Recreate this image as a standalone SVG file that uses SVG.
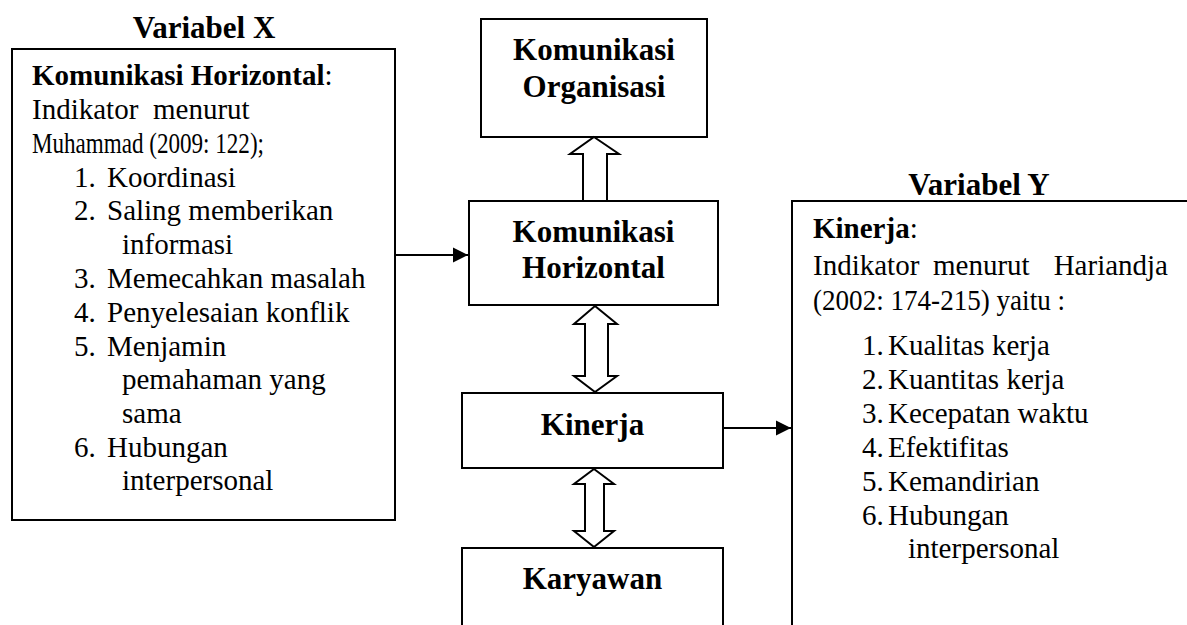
<svg xmlns="http://www.w3.org/2000/svg" width="1187" height="625" viewBox="0 0 1187 625">
<defs>
<style>
.box{fill:#fff;stroke:#000;stroke-width:2}
.blk{fill:#fff;stroke:#000;stroke-width:2;stroke-linejoin:miter}
.t{font-family:"Liberation Serif","Times New Roman",serif;font-size:29px;fill:#000}
.b{font-weight:bold}
.h{font-family:"Liberation Serif","Times New Roman",serif;font-size:31px;font-weight:bold;fill:#000;text-anchor:middle}
.ln{stroke:#000;stroke-width:2;fill:none}
</style>
<marker id="ah" markerUnits="userSpaceOnUse" markerWidth="16" markerHeight="16" refX="15" refY="8" orient="auto">
<path d="M0,0.5 L15,8 L0,15.5 Z" fill="#000"/>
</marker>
</defs>
<rect width="1187" height="625" fill="#fff"/>

<g id="varX">
<text class="h" x="204" y="38">Variabel X</text>
<rect class="box" x="12" y="49" width="383" height="471"/>
<text class="t" x="32" y="85"><tspan class="b">Komunikasi Horizontal</tspan>:</text>
<text class="t" x="32" y="119">Indikator</text>
<text class="t" x="153" y="119">menurut</text>
<text class="t" x="32" y="153" textLength="232" lengthAdjust="spacingAndGlyphs">Muhammad (2009: 122);</text>
<text class="t" x="74" y="187">1.</text><text class="t" x="107" y="187">Koordinasi</text>
<text class="t" x="74" y="220">2.</text><text class="t" x="107" y="220">Saling memberikan</text>
<text class="t" x="122" y="254">informasi</text>
<text class="t" x="74" y="288">3.</text><text class="t" x="107" y="288">Memecahkan masalah</text>
<text class="t" x="74" y="322">4.</text><text class="t" x="107" y="322">Penyelesaian konflik</text>
<text class="t" x="74" y="356">5.</text><text class="t" x="107" y="356">Menjamin</text>
<text class="t" x="122" y="389">pemahaman yang</text>
<text class="t" x="122" y="423">sama</text>
<text class="t" x="74" y="457">6.</text><text class="t" x="107" y="457">Hubungan</text>
<text class="t" x="122" y="490">interpersonal</text>
</g>

<g id="komOrg">
<rect class="box" x="481" y="19" width="226" height="118"/>
<text class="h" x="594" y="60">Komunikasi</text>
<text class="h" x="594" y="97">Organisasi</text>
</g>

<g id="komHor">
<rect class="box" x="469" y="201" width="249" height="104"/>
<text class="h" x="593.5" y="242">Komunikasi</text>
<text class="h" x="593.5" y="278">Horizontal</text>
</g>

<g id="kinerja">
<rect class="box" x="462" y="393" width="261" height="75"/>
<text class="h" x="592.5" y="435">Kinerja</text>
</g>

<g id="karyawan">
<rect class="box" x="462" y="548" width="261" height="100"/>
<text class="h" x="592.5" y="589">Karyawan</text>
</g>

<g id="varY">
<text class="h" x="979" y="195">Variabel Y</text>
<rect class="box" x="792" y="201" width="420" height="450"/>
<text class="t" x="813" y="238"><tspan class="b">Kinerja</tspan>:</text>
<text class="t" x="813" y="275">Indikator</text>
<text class="t" x="933" y="275">menurut</text>
<text class="t" x="1168" y="275" text-anchor="end">Hariandja</text>
<text class="t" x="813" y="310" textLength="252" lengthAdjust="spacingAndGlyphs">(2002: 174-215) yaitu :</text>
<text class="t" x="862" y="355">1.</text><text class="t" x="888" y="355">Kualitas kerja</text>
<text class="t" x="862" y="389">2.</text><text class="t" x="888" y="389">Kuantitas kerja</text>
<text class="t" x="862" y="423">3.</text><text class="t" x="888" y="423">Kecepatan waktu</text>
<text class="t" x="862" y="457">4.</text><text class="t" x="888" y="457">Efektifitas</text>
<text class="t" x="862" y="491">5.</text><text class="t" x="888" y="491">Kemandirian</text>
<text class="t" x="862" y="525">6.</text><text class="t" x="888" y="525">Hubungan</text>
<text class="t" x="908" y="558">interpersonal</text>
</g>

<g id="connectors">
<line class="ln" x1="395" y1="255" x2="468" y2="255" marker-end="url(#ah)"/>
<line class="ln" x1="723" y1="428" x2="791" y2="428" marker-end="url(#ah)"/>
<polygon class="blk" points="594,137 619,154 607,154 607,201 583,201 583,154 570,154"/>
<polygon class="blk" points="595,306 617,324 608,324 608,376 617,376 595,392 574,376 585,376 585,324 574,324"/>
<polygon class="blk" points="594,469 614,484 604,484 604,531 614,531 594,547 574,531 585,531 585,484 574,484"/>
</g>
</svg>
